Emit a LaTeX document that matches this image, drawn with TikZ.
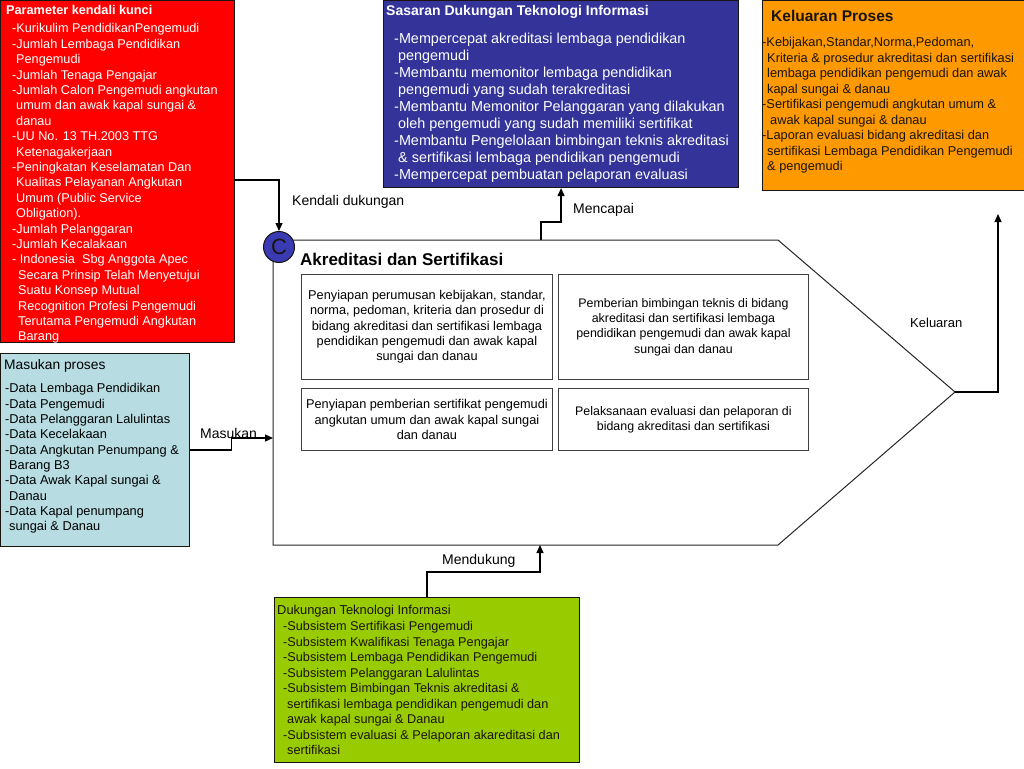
\documentclass[tikz,border=0pt]{standalone}
\usepackage{fontspec}
\setmainfont{Liberation Sans}
\usetikzlibrary{arrows.meta}
\definecolor{cred}{RGB}{255,0,0}
\definecolor{cblue}{RGB}{51,51,153}
\definecolor{corange}{RGB}{255,153,0}
\definecolor{cltblue}{RGB}{183,221,226}
\definecolor{cgreen}{RGB}{153,204,0}
\definecolor{ccirc}{RGB}{58,58,178}
\definecolor{cdark}{RGB}{25,20,15}
\begin{document}
\begin{tikzpicture}[x=1pt,y=-1pt,
  box/.style={draw=cdark, line width=1.1pt, inner sep=0pt, anchor=north west},
  inbox/.style={draw=black!75, line width=0.9pt, inner sep=0pt, anchor=north west},
  txt/.style={inner sep=0pt, anchor=north west, align=left},
  ctxtl/.style={inner sep=0pt, align=center, font=\fontsize{12.75pt}{15.3pt}\selectfont},
  ctxtr/.style={inner sep=0pt, align=center, font=\fontsize{12.4pt}{15.3pt}\selectfont},
  lbl/.style={inner sep=0pt, anchor=west, font=\fontsize{14pt}{16pt}\selectfont},
  arr/.style={draw=black, line width=1.2pt, -{Triangle[length=8pt,width=7pt]}},
  shapeline/.style={draw=black!85, line width=1pt},
]
\useasboundingbox (0,0) rectangle (1024,768);

% ---------- coloured boxes ----------
\node[box, fill=cred, minimum width=234pt, minimum height=342pt] (red) at (0,0) {};
\node[box, fill=cblue, minimum width=355pt, minimum height=187pt] (blue) at (383,0) {};
\node[box, fill=corange, minimum width=262pt, minimum height=190pt] (orange) at (762,0) {};
\node[box, fill=cltblue, minimum width=189pt, minimum height=193pt] (ltblue) at (0,353) {};
\node[box, fill=cgreen, minimum width=305pt, minimum height=165pt] (green) at (274,597) {};

% red box text
\node[txt, text=white, font=\bfseries\fontsize{12.7pt}{15pt}\selectfont] (redtitle) at (6,5.5) {Parameter kendali kunci};
\node[txt, text=white, font=\fontsize{12.7pt}{15.4pt}\selectfont] (redtext) at (12,23.4) {%
-Kurikulim PendidikanPengemudi\\
-Jumlah Lembaga Pendidikan\\
\hspace*{4pt}Pengemudi\\
-Jumlah Tenaga Pengajar\\
-Jumlah Calon Pengemudi angkutan\\
\hspace*{4pt}umum dan awak kapal sungai \&\\
\hspace*{4pt}danau\\
-UU No. 13 TH.2003 TTG\\
\hspace*{4pt}Ketenagakerjaan\\
-Peningkatan Keselamatan Dan\\
\hspace*{4pt}Kualitas Pelayanan Angkutan\\
\hspace*{4pt}Umum (Public Service\\
\hspace*{4pt}Obligation).\\
-Jumlah Pelanggaran\\
-Jumlah Kecalakaan\\
- Indonesia\ \ Sbg Anggota Apec\\
\hspace*{6pt}Secara Prinsip Telah Menyetujui\\
\hspace*{6pt}Suatu Konsep Mutual\\
\hspace*{6pt}Recognition Profesi Pengemudi\\
\hspace*{6pt}Terutama Pengemudi Angkutan\\
\hspace*{6pt}Barang};

% blue box text
\node[txt, text=white, font=\bfseries\fontsize{14pt}{16pt}\selectfont] (bluetitle) at (386,5) {Sasaran Dukungan Teknologi Informasi};
\node[txt, text=white, font=\fontsize{14.4pt}{17pt}\selectfont] (bluetext) at (394,32.8) {%
-Mempercepat akreditasi lembaga pendidikan\\
\hspace*{4pt}pengemudi\\
-Membantu memonitor lembaga pendidikan\\
\hspace*{4pt}pengemudi yang sudah terakreditasi\\
-Membantu Memonitor Pelanggaran yang dilakukan\\
\hspace*{4pt}oleh pengemudi yang sudah memiliki sertifikat\\
-Membantu Pengelolaan bimbingan teknis akreditasi\\
\hspace*{4pt}\& sertifikasi lembaga pendidikan pengemudi\\
-Mempercepat pembuatan pelaporan evaluasi};

% orange box text
\node[txt, text=cdark, font=\bfseries\fontsize{15.5pt}{17pt}\selectfont] (orangetitle) at (771,10.4) {Keluaran Proses};
\node[txt, text=cdark, font=\fontsize{12.8pt}{15.5pt}\selectfont] (orangetext) at (762,37.4) {%
-Kebijakan,Standar,Norma,Pedoman,\\
\hspace*{5pt}Kriteria \& prosedur akreditasi dan sertifikasi\\
\hspace*{5pt}lembaga pendidikan pengemudi dan awak\\
\hspace*{5pt}kapal sungai \& danau\\
-Sertifikasi pengemudi angkutan umum \&\\
\hspace*{8pt}awak kapal sungai \& danau\\
-Laporan evaluasi bidang akreditasi dan\\
\hspace*{5pt}sertifikasi Lembaga Pendidikan Pengemudi\\
\hspace*{5pt}\& pengemudi};

% light blue box text
\node[txt, font=\fontsize{13.8pt}{15pt}\selectfont] (ltbluetitle) at (4,359) {Masukan proses};
\node[txt, font=\fontsize{12.8pt}{15.33pt}\selectfont] (ltbluetext) at (5,383.4) {%
-Data Lembaga Pendidikan\\
-Data Pengemudi\\
-Data Pelanggaran Lalulintas\\
-Data Kecelakaan\\
-Data Angkutan Penumpang \&\\
\hspace*{4pt}Barang B3\\
-Data Awak Kapal sungai \&\\
\hspace*{4pt}Danau\\
-Data Kapal penumpang\\
\hspace*{4pt}sungai \& Danau};

% green box text
\node[txt, text=cdark, font=\fontsize{12.9pt}{15pt}\selectfont] (greentitle) at (277,605.4) {Dukungan Teknologi Informasi};
\node[txt, text=cdark, font=\fontsize{12.7pt}{15.5pt}\selectfont] (greentext) at (283,621.5) {%
-Subsistem Sertifikasi Pengemudi\\
-Subsistem Kwalifikasi Tenaga Pengajar\\
-Subsistem Lembaga Pendidikan Pengemudi\\
-Subsistem Pelanggaran Lalulintas\\
-Subsistem Bimbingan Teknis akreditasi \&\\
\hspace*{4pt}sertifikasi lembaga pendidikan pengemudi dan\\
\hspace*{4pt}awak kapal sungai \& Danau\\
-Subsistem evaluasi \& Pelaporan akareditasi dan\\
\hspace*{4pt}sertifikasi};

% ---------- process shape ----------
\coordinate (p1) at (273,240);
\coordinate (p2) at (778,240);
\coordinate (tip) at (955,392);
\coordinate (p4) at (778,545);
\coordinate (p5) at (273,545);
\draw[shapeline] (p1) -- (p2) -- (tip) -- (p4) -- (p5) -- cycle;

\node[draw=cdark, line width=1pt, fill=ccirc, circle, minimum size=31pt, inner sep=0pt,
      font=\fontsize{22pt}{22pt}\selectfont, text=cdark] (cnode) at (279,247) {C};

\node[inner sep=0pt, anchor=west, font=\bfseries\fontsize{17pt}{19pt}\selectfont] (ptitle) at (300,259) {Akreditasi dan Sertifikasi};

% inner boxes
\node[inbox, minimum width=251pt, minimum height=105pt] (b1) at (301,274) {};
\node[inbox, minimum width=250pt, minimum height=105pt] (b2) at (558,274) {};
\node[inbox, minimum width=251pt, minimum height=62pt] (b3) at (301,388) {};
\node[inbox, minimum width=250pt, minimum height=62pt] (b4) at (558,388) {};
\node[ctxtl] (t1) at (b1.center) {Penyiapan perumusan kebijakan, standar,\\norma, pedoman, kriteria dan prosedur di\\bidang akreditasi dan sertifikasi lembaga\\pendidikan pengemudi dan awak kapal\\sungai dan danau};
\node[ctxtr] (t2) at (b2.center) {Pemberian bimbingan teknis di bidang\\akreditasi dan sertifikasi lembaga\\pendidikan pengemudi dan awak kapal\\sungai dan danau};
\node[ctxtl] (t3) at (b3.center) {Penyiapan pemberian sertifikat pengemudi\\angkutan umum dan awak kapal sungai\\dan danau};
\node[ctxtr] (t4) at (b4.center) {Pelaksanaan evaluasi dan pelaporan di\\bidang akreditasi dan sertifikasi};

% ---------- connectors ----------
\coordinate (kdy) at (0,180);
\draw[arr] (red.east |- kdy) -| (cnode.north);
\node[lbl] (lkd) at (292,202) {Kendali dukungan};

\coordinate (mc0) at (541,240);
\draw[arr] (mc0) -- ++(0,-18) -| (blue.south);
\node[lbl] (lmc) at (573,210) {Mencapai};

\coordinate (ms1) at (273,438);
\draw[arr] (ltblue.east) -- ++(41,0) |- (ms1);
\node[lbl] (lms) at (200,433) {Masukan};

\coordinate (md1) at (540,545);
\draw[arr] (green.north) -- ++(0,-25) -| (md1);
\node[lbl] (lmd) at (442,561) {Mendukung};

\coordinate (kel) at (998,214);
\draw[arr] (tip) -| (kel);
\node[lbl, font=\fontsize{13pt}{15pt}\selectfont] (lkel) at (910,323) {Keluaran};
\end{tikzpicture}
\end{document}
